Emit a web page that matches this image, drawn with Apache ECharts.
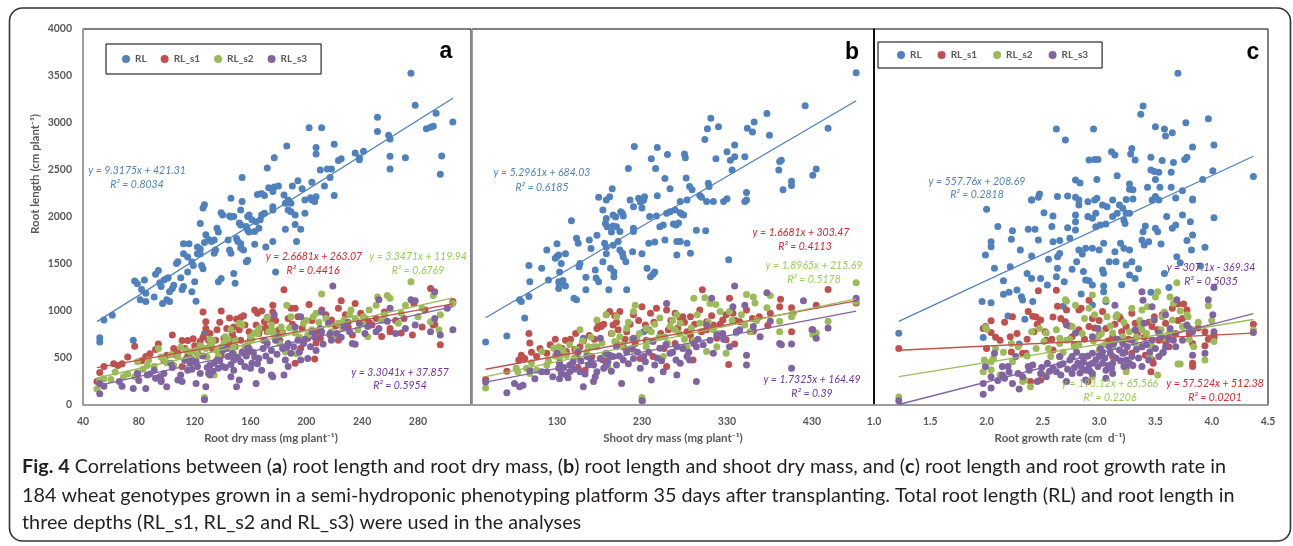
<!DOCTYPE html>
<html>
<head>
<meta charset="utf-8">
<script src="https://cdn.jsdelivr.net/npm/echarts@6/dist/echarts.min.js"></script>
<style>
html,body{margin:0;padding:0;background:#fff}
#chart{width:1293px;height:546px}
</style>
</head>
<body>
<div id="chart"></div>
<script>
// Series and colours
const seriesNames = ['RL', 'RL_s1', 'RL_s2', 'RL_s3'];
const markerColors = ['#4F81BD', '#C0504D', '#9BBB59', '#8064A2'];
const eqColors = ['#4F81BD', '#E0202A', '#92D050', '#7030A0'];

// Axis titles and tick ranges
const xTitles = ['Root dry mass (mg plant\u207B\u00B9)', 'Shoot dry mass (mg plant\u207B\u00B9)', 'Root growth rate (cm  d\u207B\u00B9)'];
const yTitle = 'Root length (cm plant\u207B\u00B9)';
const xMin = [40, 30, 1.0];
const xMax = [318, 503, 4.5];
const xStep = [40, 100, 0.5];
const yMin = 0, yMax = 4000, yStep = 500;
const panelLetters = ['a', 'b', 'c'];

// (a) root dry mass (mg) vs root length (cm)
const a_RL = [[275,3530],[278,3190],[293,3105],[305,3010],[286,2940],[289,2955],[291,2965],[251,3060],[251,2910],[259,2870],[260,2830],[202,2950],[211,2950],[186,2755],[207,2740],[207,2670],[220,2775],[235,2680],[238,2630],[238,2610],[241,2700],[260,2645],[260,2510],[271,2630],[297,2650],[296,2455],[223,2600],[225,2620],[177,2630],[172,2520],[210,2500],[215,2510],[218,2510],[217,2420],[154,2420],[204,2370],[194,2385],[213,2330],[190,2330],[197,2300],[173,2310],[177,2320],[180,2330],[165,2240],[168,2250],[170,2230],[184,2235],[146,2200],[176,2270],[203,2205],[207,2215],[220,2230],
[52,670],[52,715],[55,905],[61,955],[76,690],[77,1320],[79,1290],[82,1230],[84,1330],[85,1190],[85,1100],[81,1120],[91,1150],[92,1390],[94,1430],[95,1300],[96,1260],[97,1080],[100,1120],[102,1100],[98,1330],[100,1345],[101,1355],[104,1240],[105,1275],[102,1205],[107,1505],[108,1525],[110,1355],[112,1260],[111,1230],[112,1610],[115,1575],[118,1205],[120,1310],[121,1105],[112,1715],[116,1715],[115,1415],[118,1520],[119,1485],[122,1610],[124,1610],[122,1680],[124,1660],[124,1930],[125,1485],[126,1450],[127,2130],[126,2095],[127,760],[128,1810],[130,1760],[132,1740],[127,1730],[134,1755],[135,1650],[134,1615],[136,1880],[137,1840],[139,2045],[140,2020],[137,1310],[139,1345],[144,1755],[145,1650],[146,1615],[145,2010],[146,2000],[148,2005],[148,1400],[149,1295],[150,1770],[151,1740],[153,1715],[153,1670],[155,1650],[152,1935],[153,1915],[154,2165],[153,2075],[158,2005],[159,2020],[161,1970],[157,1900],[158,1860],[159,1840],[158,1540],[157,1525],[163,1710],[163,1845],[166,1880],[164,1950],[167,1970],[168,2020],[170,2040],[171,1680],[176,1740],[176,2075],[178,1415],[176,2110],[185,2145],[185,1870],[187,2180],[189,2145],[187,2075],[189,2055],[192,2020],[192,1920],[196,1870],[193,1740],[199,2040],[199,2180],[204,2180],[206,2165]];
const a_s1 = [[52,345],[50,250],[55,410],[68,440],[77,625],[79,335],[85,515],[94,650],[96,265],[100,530],[104,745],[111,685],[115,685],[107,530],[111,410],[117,565],[122,555],[123,615],[124,675],[126,990],[128,885],[128,815],[131,620],[133,595],[139,1000],[136,800],[141,710],[143,815],[145,925],[146,650],[148,710],[150,915],[153,930],[155,950],[149,620],[153,690],[158,565],[163,1010],[165,975],[168,1000],[164,850],[167,815],[170,885],[172,780],[176,1060],[176,990],[175,905],[180,795],[181,690],[184,1225],[187,920],[189,1030],[192,1030],[194,940],[192,445],[201,710],[202,1070],[207,660],[206,490],[211,1010],[214,960],[218,905],[223,1030],[225,1110],[223,690],[235,1080],[239,975],[242,920],[250,920],[260,780],[260,815],[277,1080],[276,745],[289,1240],[291,850],[292,860],[296,640],[305,1100],[283,830],[217,745],[148,830],[130,690],[115,515],[159,780],[172,930],[233,745],[247,850],[268,765],[62,440],[72,510],[88,545],[105,600],[119,705],[139,530],[196,605],[210,710],[230,830],[254,730],[264,900],
[98,470],[108,560],[113,600],[120,630],[126,720],[131,760],[135,690],[138,880],[142,640],[147,760],[152,800],[156,850],[160,700],[166,760],[171,820],[178,900],[183,770],[190,860],[197,820],[204,900],[208,780],[221,840],[228,960],[245,880],[256,990],[270,920],[285,1010],[82,470],[65,420],[92,590]];
const a_s2 = [[50,170],[52,260],[55,280],[69,300],[77,300],[79,460],[86,420],[87,475],[94,600],[96,510],[98,490],[103,535],[110,615],[114,580],[121,580],[124,630],[125,615],[127,80],[127,60],[131,700],[133,685],[136,580],[139,615],[142,725],[146,800],[148,615],[152,870],[154,850],[158,655],[163,765],[166,815],[172,925],[175,850],[176,790],[177,745],[181,655],[185,565],[186,1060],[189,940],[193,545],[198,870],[201,745],[205,940],[207,975],[211,1180],[214,920],[218,780],[220,745],[223,870],[227,905],[231,960],[235,920],[241,940],[245,1010],[250,1060],[251,1150],[258,1165],[260,1135],[268,975],[271,1060],[275,1310],[283,1030],[289,885],[291,1165],[295,800],[296,960],[305,1080],[244,725],[232,1010],[160,725],[119,475],[105,420],[91,410],[63,350],[134,320],[148,545],[204,800],[254,900],[266,870],[192,765],[182,830],[129,510],[237,800],
[100,450],[108,520],[113,470],[117,560],[123,520],[128,600],[132,640],[137,520],[141,660],[144,700],[149,680],[156,620],[161,700],[165,760],[169,690],[173,780],[178,720],[183,760],[188,820],[195,720],[200,900],[209,880],[216,860],[226,820],[240,870],[256,960],[280,940],[83,380],[72,330],[60,270]];
const a_s3 = [[52,230],[52,120],[55,200],[68,200],[76,175],[79,335],[85,175],[86,320],[91,370],[92,285],[98,335],[100,195],[103,445],[110,320],[111,250],[115,370],[117,445],[121,230],[128,195],[127,55],[130,335],[131,320],[134,445],[137,390],[140,580],[144,515],[147,550],[148,370],[150,195],[152,265],[154,565],[155,550],[158,615],[159,600],[161,445],[164,230],[166,495],[170,690],[172,655],[175,580],[178,690],[180,725],[175,320],[176,300],[184,320],[186,615],[187,655],[189,550],[192,830],[194,690],[196,480],[198,655],[204,780],[207,580],[210,815],[211,780],[211,990],[217,760],[219,1265],[222,760],[227,835],[231,780],[235,645],[238,870],[242,760],[244,835],[250,780],[252,815],[252,1120],[260,1030],[258,890],[271,815],[275,1120],[278,1110],[289,780],[292,1205],[296,745],[305,800],[292,920],[301,1030],[201,495],[187,410],[168,370],[146,300],[124,335],[136,480],[117,495],[108,265],[96,250],[233,655],[216,870],[196,940],[177,960],[163,510],[156,410],[148,480],[140,410],[131,425],[122,410],[113,480],[264,760],[278,850],
[118,380],[121,460],[126,520],[129,400],[133,360],[138,470],[142,400],[143,600],[146,430],[151,500],[153,460],[157,520],[160,390],[162,560],[165,440],[169,600],[171,520],[174,470],[179,540],[183,600],[185,480],[191,620],[195,560],[199,700],[203,620],[206,720],[212,650],[218,690],[225,720],[230,880],[104,400],[95,300],[88,330],[80,260],[66,250]];

// (b) shoot dry mass (mg) vs root length (cm)
const b_RL = [[482,3535],[422,3184],[377,3100],[311,3050],[307,2940],[320,2960],[354,2945],[360,2905],[362,3010],[380,2870],[449,2945],[304,2825],[221,2750],[248,2740],[260,2665],[280,2670],[281,2630],[241,2620],[317,2620],[330,2695],[339,2765],[334,2605],[339,2640],[351,2640],[214,2515],[246,2515],[257,2410],[282,2415],[286,2325],[289,2290],[308,2360],[309,2325],[336,2500],[392,2590],[394,2605],[391,2500],[431,2445],[435,2510],[406,2380],[406,2335],[353,2260],[263,2300],[195,2300],[179,2210],[192,2215],[226,2200],[233,2215],[248,2225],[298,2230],[300,2210],[330,2195],[353,2180],[396,2290],
[187,1930],[189,1895],[196,2020],[199,2000],[205,2055],[207,2040],[208,2010],[196,1905],[200,1895],[220,2110],[228,2160],[232,2180],[230,2095],[194,1840],[204,1845],[220,1880],[239,2005],[247,2010],[251,1895],[255,1915],[259,2040],[263,2055],[269,2075],[275,2045],[273,1935],[270,1915],[267,1925],[275,2165],[283,2180],[294,1860],[305,1855],[279,2020],[277,2030],[306,2165],[314,2165],[326,2165],[351,2165],[216,2180],[230,2170],[188,2180],[147,1960],[153,1775],[155,1720],[130,1715],[130,1580],[118,1650],[112,1455],[97,1485],[98,1310],[120,1330],[128,1560],[132,1595],[140,1610],[133,1415],[132,1310],[133,1290],[137,1325],[132,1240],[133,1275],[140,1265],[135,1505],[150,1135],[153,1120],[156,1470],[157,1505],[164,1360],[164,1225],[170,1665],[168,1755],[177,1805],[175,1435],[176,1350],[179,1310],[184,1525],[188,1610],[193,1455],[197,1415],[197,1365],[186,1720],[188,1680],[191,1225],[212,1225],[219,1630],[230,1610],[204,1650],[207,1615],[208,1575],[211,1525],[202,1740],[238,1720],[245,1735],[236,1455],[240,1365],[243,1390],[245,1415],[257,1755],[271,1740],[275,1740],[271,1595],[283,1720],[287,1615],[332,1545],[86,1120],[88,1100],[97,1155],[71,735],[46,670],[92,925],[161,710],[232,780],[184,2075],[188,1985],[196,1700],[220,1845]];
const b_s1 = [[46,270],[71,360],[88,530],[97,760],[98,660],[92,495],[118,550],[128,700],[140,690],[133,550],[141,570],[151,590],[153,515],[157,620],[163,370],[171,515],[177,815],[179,850],[182,835],[188,960],[192,995],[198,950],[196,850],[204,995],[202,800],[208,620],[212,590],[220,960],[230,1045],[222,655],[234,850],[240,975],[247,1030],[243,515],[259,1010],[269,975],[261,800],[275,925],[278,940],[283,780],[287,745],[287,940],[298,1010],[301,1225],[306,800],[314,850],[325,905],[329,960],[333,1135],[337,975],[339,650],[329,695],[332,430],[353,1010],[360,920],[345,885],[361,785],[378,845],[393,1125],[392,1045],[406,1035],[406,780],[435,1060],[449,1230],[482,1085],[430,800],[381,975],[235,690],[256,600],[269,655],[289,690],[306,885],[318,710],[212,780],[200,655],[184,480],[155,390],[192,515],[228,495],[259,410],[290,480],[106,515],
[110,600],[122,640],[136,600],[146,700],[152,760],[161,680],[168,740],[174,700],[185,860],[194,760],[200,880],[210,700],[216,860],[226,900],[238,800],[244,880],[252,760],[264,900],[272,820],[280,880],[292,860],[300,780],[312,950],[322,860],[340,900],[368,940],[85,480],[100,560]];
const b_s2 = [[46,180],[82,390],[94,390],[98,335],[112,570],[126,605],[132,620],[133,495],[141,530],[153,590],[157,800],[167,620],[173,620],[177,905],[188,960],[198,675],[204,725],[212,815],[220,995],[222,1060],[230,80],[231,45],[224,710],[235,620],[241,780],[251,925],[257,725],[263,835],[269,800],[275,870],[283,620],[291,690],[298,870],[304,1140],[310,1080],[306,570],[314,800],[317,1070],[322,995],[329,550],[333,995],[341,765],[351,850],[353,1175],[363,1085],[361,1150],[377,1035],[381,1165],[392,890],[406,940],[408,975],[431,750],[435,765],[449,890],[482,1300],[482,1100],[392,780],[357,780],[200,940],[177,620],[118,425],[84,355],[106,370],[190,410],[235,815],[291,1135],[220,585],[255,515],[271,960],[318,620],
[120,470],[128,520],[137,580],[145,640],[150,500],[160,680],[165,560],[170,720],[183,660],[186,540],[195,760],[206,640],[214,880],[218,700],[227,760],[238,680],[245,860],[250,720],[260,660],[266,900],[274,760],[280,700],[288,820],[295,960],[308,880],[320,760],[336,900],[347,960],[365,900],[100,450]];
const b_s3 = [[46,245],[71,130],[86,195],[90,210],[98,370],[118,355],[130,550],[133,445],[132,390],[135,335],[141,320],[145,355],[149,460],[155,565],[161,195],[167,425],[173,250],[177,355],[181,495],[188,550],[192,530],[196,515],[200,425],[206,230],[212,565],[220,495],[230,45],[232,515],[241,265],[245,425],[251,605],[259,1080],[263,550],[271,320],[275,445],[283,515],[291,655],[294,620],[294,250],[306,850],[312,1135],[314,550],[325,760],[333,620],[337,1045],[339,1265],[341,780],[351,1060],[353,530],[353,425],[361,835],[377,1195],[381,890],[392,655],[394,640],[406,390],[406,650],[420,1110],[431,800],[435,710],[449,820],[482,1135],[243,675],[220,710],[188,425],[165,515],[145,425],[369,725],[271,620],[286,480],[318,745],[181,710],[200,620],[228,390],[255,355],[133,280],[112,355],[173,425],[157,355],
[125,300],[138,400],[143,290],[150,380],[158,470],[163,330],[170,480],[175,300],[185,390],[190,460],[194,360],[203,520],[208,480],[214,440],[218,600],[225,560],[234,460],[238,560],[248,500],[253,470],[258,640],[266,560],[270,480],[278,600],[285,560],[296,700],[302,640],[310,690],[326,700],[345,800],[104,280],[80,230]];

// (c) root growth rate (cm d-1) vs root length (cm)
const c_RL = [[3.70,3528],[3.39,3180],[3.37,3093],[2.62,2936],[2.95,2936],[2.70,2820],[3.50,2960],[3.58,2936],[3.65,2897],[3.59,2862],[3.77,3003],[3.97,3045],[3.83,2745],[4.02,2766],[3.11,2695],[3.14,2660],[3.28,2670],[3.29,2730],[3.32,2606],[2.91,2606],[2.96,2613],[2.99,2613],[3.46,2635],[3.66,2581],[3.76,2613],[3.78,2635],[3.46,2500],[3.49,2483],[3.53,2475],[3.64,2475],[4.01,2493],[4.37,2430],[2.79,2394],[2.83,2362],[3.27,2352],[3.27,2295],[3.30,2291],[3.43,2316],[3.54,2316],[3.64,2316],[3.74,2280],[3.50,2400],[2.47,2245],[2.46,2210],[2.63,2217],[2.72,2224],[2.79,2210],[2.98,2200],[3.24,2186],[3.30,2192],[3.50,2217],[3.68,2203],[3.83,2192],[2.40,2182],
[2.00,2082],[1.99,1596],[2.04,1684],[2.04,1738],[2.07,1454],[2.15,1323],[2.15,1177],[1.96,1100],[2.04,1088],[2.21,1472],[2.22,1762],[2.23,1855],[2.19,946],[2.27,1223],[2.31,1152],[2.32,1117],[2.34,911],[2.37,1869],[2.43,1869],[2.40,1585],[2.46,1755],[2.40,2180],[2.40,1347],[2.41,1100],[2.48,1347],[2.51,2046],[2.54,1276],[2.59,2010],[2.59,1738],[2.65,1749],[2.63,1578],[2.65,1613],[2.63,1454],[2.69,1312],[2.72,1886],[2.74,1773],[2.76,1443],[2.79,2020],[2.79,1950],[2.79,1862],[2.80,1525],[2.82,2180],[2.82,2128],[2.90,2163],[2.82,1649],[2.85,1607],[2.86,1419],[2.88,1330],[2.91,1323],[2.88,1667],[2.94,1667],[2.90,2004],[2.94,1986],[2.97,2040],[2.94,1276],[2.97,1897],[3.01,1915],[3.06,1925],[2.96,2180],[3.03,2128],[3.07,2110],[3.00,1649],[3.04,1720],[3.03,1436],[3.04,1401],[3.04,1266],[3.04,1206],[3.12,2180],[3.18,2128],[3.12,2004],[3.16,2040],[3.14,1631],[3.09,1525],[3.15,1525],[3.19,1720],[3.22,1667],[3.21,2092],[3.24,2040],[3.27,2040],[3.22,1968],[3.23,1932],[3.24,1490],[3.27,1649],[3.29,1525],[3.27,1383],[3.32,1347],[3.38,1755],[3.39,1844],[3.41,1904],[3.40,1702],[3.44,1738],[3.47,2180],[3.53,2180],[3.50,1879],[3.52,1844],[3.55,1713],[3.60,2004],[3.65,1879],[3.68,1915],[3.69,1578],[3.72,1514],[3.74,2022],[3.81,1950],[3.83,1809],[3.82,1649],[3.83,2180],[3.94,1677],[4.02,1993],[2.94,1064],[1.22,762],[1.97,719],[2.62,1365],[2.29,650],
[2.10,1900],[2.30,1650],[2.55,1550],[2.68,1050],[2.84,1180],[3.06,1100],[3.20,1280],[3.35,1450],[3.46,1200],[3.58,1400],[3.62,1250],[3.78,1750],[3.90,1480],[3.92,2400],[3.56,2600],[3.16,2440],[2.98,2400],[2.58,1900],[2.36,1400],[2.20,1200]];
const c_s1 = [[1.22,602],[1.97,815],[1.99,835],[2.04,895],[2.04,770],[2.21,725],[2.23,940],[2.32,550],[2.37,995],[2.41,945],[2.44,935],[2.46,1215],[2.48,905],[2.39,250],[2.48,265],[2.59,935],[2.62,1220],[2.63,1050],[2.65,515],[2.71,1010],[2.82,1010],[2.84,1030],[2.91,1115],[2.91,835],[2.90,250],[3.00,745],[3.03,995],[3.12,725],[3.18,940],[3.19,915],[3.24,835],[3.29,975],[3.32,870],[3.38,620],[3.41,530],[3.46,355],[3.47,480],[3.48,445],[3.49,940],[3.53,690],[3.59,870],[3.65,1030],[3.68,760],[3.70,1075],[3.75,1075],[3.78,1010],[3.83,445],[3.83,410],[3.83,655],[3.94,630],[4.02,745],[4.02,715],[4.37,860],[3.74,920],[3.59,670],[2.94,920],[2.76,725],[2.53,690],[2.35,550],[3.12,515],[3.29,550],[2.70,885],[2.82,800],[3.06,815],[3.47,835],[2.12,690],[2.22,565],[2.42,780],[2.59,585],[3.24,390],[3.62,620],[3.94,780],
[2.08,720],[2.16,880],[2.27,760],[2.36,700],[2.45,860],[2.52,780],[2.58,700],[2.66,920],[2.74,840],[2.78,640],[2.87,700],[2.96,820],[3.00,900],[3.08,680],[3.14,860],[3.20,780],[3.26,700],[3.34,760],[3.40,720],[3.44,880],[3.52,800],[3.56,960],[3.63,760],[3.70,900],[3.80,760],[3.88,820],[3.97,700],[2.00,600]];
const c_s2 = [[1.22,85],[1.99,825],[2.00,805],[1.97,355],[2.04,460],[2.06,495],[2.04,375],[2.12,320],[2.22,655],[2.23,460],[2.32,250],[2.34,265],[2.39,195],[2.40,780],[2.47,815],[2.51,675],[2.57,515],[2.65,710],[2.70,1120],[2.71,1105],[2.79,1060],[2.78,620],[2.87,920],[2.91,1030],[2.94,1170],[2.96,960],[2.99,725],[3.06,1120],[3.07,940],[3.15,940],[3.16,960],[3.12,765],[3.21,725],[3.24,355],[3.29,1030],[3.37,835],[3.38,800],[3.43,1045],[3.45,515],[3.50,1150],[3.52,1205],[3.52,320],[3.56,940],[3.58,990],[3.59,710],[3.63,1150],[3.65,905],[3.69,1300],[3.70,435],[3.72,435],[3.74,835],[3.78,960],[3.79,940],[3.84,620],[3.94,480],[3.97,1055],[4.02,675],[4.37,800],[2.94,305],[2.65,655],[2.71,690],[2.51,320],[2.88,515],[3.32,655],[3.47,620],[3.12,620],[3.00,585],[2.76,835],[3.56,550],[2.53,765],[3.83,800],[3.38,1010],
[2.15,560],[2.28,620],[2.36,520],[2.44,600],[2.55,600],[2.62,800],[2.68,560],[2.74,700],[2.82,640],[2.85,760],[2.95,680],[3.02,760],[3.05,640],[3.10,840],[3.18,700],[3.22,880],[3.27,780],[3.33,720],[3.36,900],[3.42,760],[3.48,900],[3.55,800],[3.62,760],[3.66,1080],[3.72,1000],[3.80,700],[3.88,880],[4.00,900],[2.08,600],[1.98,480]];
const c_s3 = [[1.22,45],[1.97,230],[1.97,115],[2.04,180],[1.99,410],[2.07,550],[2.04,300],[2.14,320],[2.16,285],[2.19,410],[2.23,230],[2.28,335],[2.29,170],[2.37,410],[2.38,370],[2.41,425],[2.45,250],[2.48,335],[2.54,445],[2.59,390],[2.62,355],[2.65,425],[2.66,320],[2.71,850],[2.74,480],[2.76,515],[2.79,765],[2.81,445],[2.84,410],[2.88,370],[2.91,425],[2.94,445],[2.94,725],[2.99,815],[3.00,515],[3.03,565],[3.06,370],[3.10,550],[3.13,655],[3.14,1060],[3.18,585],[3.21,550],[3.22,410],[3.27,445],[3.29,690],[3.32,800],[3.38,1205],[3.39,1115],[3.38,620],[3.40,870],[3.45,565],[3.47,1045],[3.49,905],[3.53,765],[3.55,725],[3.59,960],[3.63,815],[3.66,690],[3.69,1120],[3.74,690],[3.78,850],[3.80,815],[3.83,780],[3.83,530],[3.94,550],[3.97,1120],[4.01,960],[4.02,780],[4.02,1250],[4.37,770],[2.53,300],[2.71,250],[2.88,265],[3.06,285],[3.24,480],[3.38,410],[3.53,515],[3.68,620],[2.94,550],[3.12,445],[3.29,515],[2.76,335],[2.65,515],[2.94,335],[3.12,335],[2.85,515],[3.03,445],[3.21,655],[3.47,690],[3.59,620],[2.26,515],[2.14,410],
[2.68,440],[2.72,380],[2.78,400],[2.80,560],[2.83,340],[2.86,460],[2.90,520],[2.92,360],[2.97,480],[2.99,410],[3.01,600],[3.05,500],[3.08,420],[3.09,620],[3.11,390],[3.15,500],[3.16,700],[3.19,470],[3.23,560],[3.25,620],[3.30,420],[3.33,590],[3.35,500],[3.42,640],[3.44,480],[3.50,600],[3.57,560],[3.62,700],[2.56,360],[2.49,400],[2.32,300],[2.20,350],[2.10,260]];

// Linear fits (slope, intercept, R²) for RL, RL_s1, RL_s2, RL_s3 in each panel
const slopeA = [9.3175, 2.6681, 3.3471, 3.3041];
const interceptA = [421.31, 263.07, 119.94, 37.857];
const r2A = [0.8034, 0.4416, 0.6769, 0.5954];
const slopeB = [5.2961, 1.6681, 1.8965, 1.7325];
const interceptB = [684.03, 303.47, 215.69, 164.49];
const r2B = [0.6185, 0.4113, 0.5178, 0.39];
const slopeC = [557.76, 57.524, 193.12, 307.1];
const interceptC = [208.69, 512.38, 65.566, -369.34];
const r2C = [0.2818, 0.0201, 0.2206, 0.5035];

const panelData = [[a_RL, a_s1, a_s2, a_s3], [b_RL, b_s1, b_s2, b_s3], [c_RL, c_s1, c_s2, c_s3]];
const panelSlopes = [slopeA, slopeB, slopeC];
const panelIntercepts = [interceptA, interceptB, interceptC];
const panelR2 = [r2A, r2B, r2C];

// Layout
const gridBoxes = [
  {left: 83, top: 29, width: 388, height: 376},
  {left: 472, top: 29, width: 402, height: 376},
  {left: 874, top: 29, width: 394, height: 376}
];
const yAxisLineColors = ['#a6a6a6', '#a6a6a6', '#000'];
// equation label centres [x, y]; the R² line sits just below
const eqPos = [
  [[137, 171], [314, 257], [418, 257], [400, 373]],
  [[542, 173], [801, 233], [814, 266], [812, 380]],
  [[977, 182], [1215, 384], [1110, 384], [1211, 268]]
];
const r2Pos = [
  [[137, 185], [313, 271], [418, 271], [400, 386]],
  [[542, 188], [805, 247], [814, 280], [812, 394]],
  [[977, 195], [1215, 398], [1110, 398], [1211, 282]]
];
const letterPos = [[446, 52], [852, 53], [1253, 53]];
const xTitlePos = [[271, 438], [673, 438], [1060, 438]];

const labelFont = 'Lato, "Open Sans", sans-serif';
const greyText = '#595959';

function fmtEq(m, b) {
  const sign = b < 0 ? ' - ' : ' + ';
  return 'y = ' + String(m) + 'x' + sign + String(Math.abs(b));
}

const grids = gridBoxes.map(g => Object.assign({
  show: true, borderColor: '#000', borderWidth: 1, backgroundColor: 'transparent',
  containLabel: false, outerBoundsMode: 'none'
}, g));

const xAxes = [0, 1, 2].map(i => ({
  gridIndex: i, type: 'value', min: xMin[i], max: xMax[i], interval: xStep[i],
  axisLine: {show: true, onZero: false, lineStyle: {color: '#a6a6a6', width: 1.5}},
  axisTick: {show: false}, splitLine: {show: false},
  axisLabel: {
    showMinLabel: i !== 1, showMaxLabel: i === 2, margin: 11,
    color: greyText, fontWeight: 'bold', fontSize: 10.5, fontFamily: labelFont,
    formatter: v => i === 2 ? v.toFixed(1) : String(v)
  }
}));

const yAxes = [0, 1, 2].map(i => ({
  gridIndex: i, type: 'value', min: yMin, max: yMax, interval: yStep,
  axisLine: {show: true, onZero: false, lineStyle: {color: yAxisLineColors[i], width: 1.5}},
  axisTick: {show: false}, splitLine: {show: false},
  axisLabel: {
    show: i === 0, margin: 11, color: greyText, fontWeight: 'bold', fontSize: 10.5, fontFamily: labelFont,
    formatter: v => String(v)
  }
}));

const series = [];
const graphics = [];

panelData.forEach((sets, p) => {
  sets.forEach((pts, k) => {
    series.push({
      type: 'scatter', name: seriesNames[k], xAxisIndex: p, yAxisIndex: p,
      data: pts, symbol: 'circle', symbolSize: 7,
      itemStyle: {color: markerColors[k], opacity: 1}, z: 2, silent: true
    });
  });
  // trend lines span the panel's x range
  let lo = Infinity, hi = -Infinity;
  sets.forEach(pts => pts.forEach(d => { lo = Math.min(lo, d[0]); hi = Math.max(hi, d[0]); }));
  sets.forEach((pts, k) => {
    const m = panelSlopes[p][k], b = panelIntercepts[p][k];
    series.push({
      type: 'line', name: seriesNames[k] + ' fit', xAxisIndex: p, yAxisIndex: p,
      data: [[lo, m * lo + b], [hi, m * hi + b]], showSymbol: false, symbol: 'none',
      lineStyle: {color: markerColors[k], width: 1.3}, z: 3, silent: true, animation: false
    });
    const e = eqPos[p][k], r = r2Pos[p][k];
    graphics.push({
      type: 'text', x: e[0], y: e[1], silent: true, z: 10,
      style: {text: fmtEq(m, b), fill: eqColors[k], fontSize: 10.5, fontStyle: 'italic',
              fontFamily: labelFont, align: 'center', verticalAlign: 'middle'}
    });
    graphics.push({
      type: 'text', x: r[0], y: r[1], silent: true, z: 10,
      style: {text: 'R\u00B2 = ' + String(panelR2[p][k]), fill: eqColors[k], fontSize: 10.5, fontStyle: 'italic',
              fontFamily: labelFont, align: 'center', verticalAlign: 'middle'}
    });
  });
  graphics.push({
    type: 'text', x: letterPos[p][0], y: letterPos[p][1], silent: true, z: 10,
    style: {text: panelLetters[p], fill: '#000', fontSize: 23, fontWeight: 'bold',
            fontFamily: '"Liberation Sans", Arial, sans-serif', align: 'center', verticalAlign: 'middle'}
  });
  graphics.push({
    type: 'text', x: xTitlePos[p][0], y: xTitlePos[p][1], silent: true, z: 10,
    style: {text: xTitles[p], fill: greyText, fontSize: 11.5, fontWeight: 'bold',
            fontFamily: labelFont, align: 'center', verticalAlign: 'middle'}
  });
});

graphics.push({
  type: 'text', x: 35, y: 174, rotation: Math.PI / 2, silent: true, z: 10,
  style: {text: yTitle, fill: greyText, fontSize: 11.5, fontWeight: 'bold',
          fontFamily: labelFont, align: 'center', verticalAlign: 'middle'}
});

// figure frame
graphics.push({
  type: 'rect', silent: true, z: 0,
  shape: {x: 9.5, y: 8, width: 1281, height: 533, r: 13},
  style: {fill: 'none', stroke: '#333', lineWidth: 1.6}
});

// caption
const captionLines = [
  '{b|Fig. 4} Correlations between ({b|a}) root length and root dry mass, ({b|b}) root length and shoot dry mass, and ({b|c}) root length and root growth rate in',
  '184 wheat genotypes grown in a semi-hydroponic phenotyping platform 35 days after transplanting. Total root length (RL) and root length in',
  'three depths (RL_s1, RL_s2 and RL_s3) were used in the analyses'
];
const captionY = [467, 496, 523];
const capFont = 'Lato, "Liberation Sans", sans-serif';
const capSize = 19.8;
captionLines.forEach((t, i) => {
  graphics.push({
    type: 'text', x: 22, y: captionY[i], silent: true, z: 10,
    style: {
      text: t, fill: '#231f20', fontSize: capSize, fontFamily: capFont,
      align: 'left', verticalAlign: 'middle',
      rich: {b: {fontWeight: 'bold', fontSize: capSize, fontFamily: capFont, fill: '#231f20'}}
    }
  });
});

const legendBase = {
  data: seriesNames, orient: 'horizontal', icon: 'circle', itemWidth: 8, itemHeight: 8,
  borderColor: '#000', borderWidth: 1, selectedMode: false,
  textStyle: {color: greyText, fontWeight: 'bold', fontSize: 10, fontFamily: labelFont}
};
const legends = [
  Object.assign({}, legendBase, {left: 106, top: 44, itemGap: 14, padding: [10, 14, 10, 16]}),
  Object.assign({}, legendBase, {left: 878, top: 42, itemGap: 16, padding: [8, 14, 8, 19]})
];

const chart = echarts.init(document.getElementById('chart'), null, {renderer: 'canvas'});
chart.setOption({
  backgroundColor: '#fff',
  animation: false,
  color: markerColors,
  grid: grids,
  xAxis: xAxes,
  yAxis: yAxes,
  legend: legends,
  series: series,
  graphic: graphics
});
</script>
</body>
</html>
